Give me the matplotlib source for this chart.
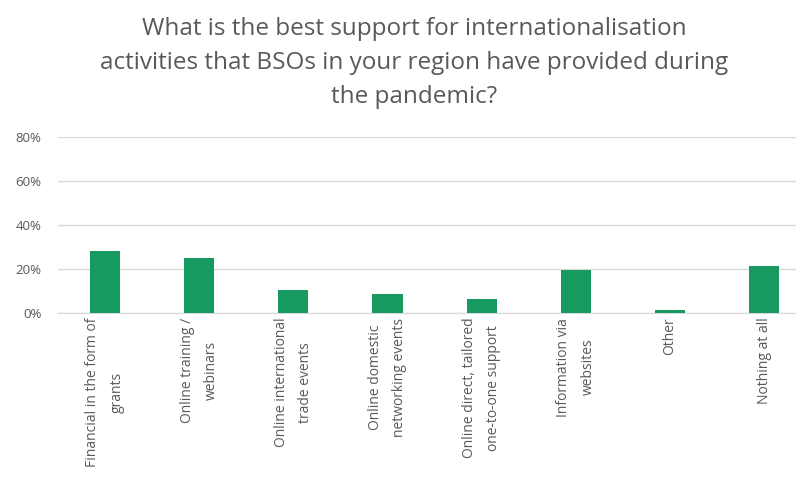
import numpy as np
import matplotlib.pyplot as plt
from matplotlib.ticker import PercentFormatter

categories = ["Financial in the form of\ngrants", "Online training /\nwebinars",
              "Online international\ntrade events", "Online domestic\nnetworking events",
              "Online direct, tailored\none-to-one support", "Information via\nwebsites",
              "Other", "Nothing at all"]
shares = [28, 25, 10.5, 8.5, 6.2, 19.5, 1.5, 21.5]
y_ticks = [0, 20, 40, 60, 80]

plt.rcParams['font.family'] = ['Open Sans', 'DejaVu Sans']

fig = plt.figure(figsize=(7.96, 4.95), dpi=100)
ax = fig.add_axes([0.073, 0.368, 0.946, 0.355])

x = np.arange(len(categories))
ax.bar(x, shares, width=0.32, color="#179a5f", zorder=3)

ax.set_xlim(-0.5, len(categories) - 0.5)
ax.set_ylim(0, 80)
ax.set_yticks(y_ticks)
ax.yaxis.set_major_formatter(PercentFormatter(decimals=0))
ax.grid(axis="y", color="#d9d9d9", linewidth=1, zorder=0)
for s in ["top", "right", "left"]:
    ax.spines[s].set_visible(False)
ax.spines["bottom"].set_color("#d9d9d9")
ax.tick_params(axis="both", length=0, colors="#595959", labelsize=9.5)
ax.tick_params(axis="y", pad=12)
ax.set_xticks(x)
ax.set_xticklabels(categories, rotation=90, ha="center", va="top",
                   multialignment="center", fontsize=10, linespacing=1.85)

fig.suptitle("What is the best support for internationalisation\n"
             "activities that BSOs in your region have provided during\n"
             "the pandemic?", x=0.52, y=0.965, fontsize=17.5, color="#595959",
             linespacing=1.55)

fig.savefig("out.png", dpi=100)
